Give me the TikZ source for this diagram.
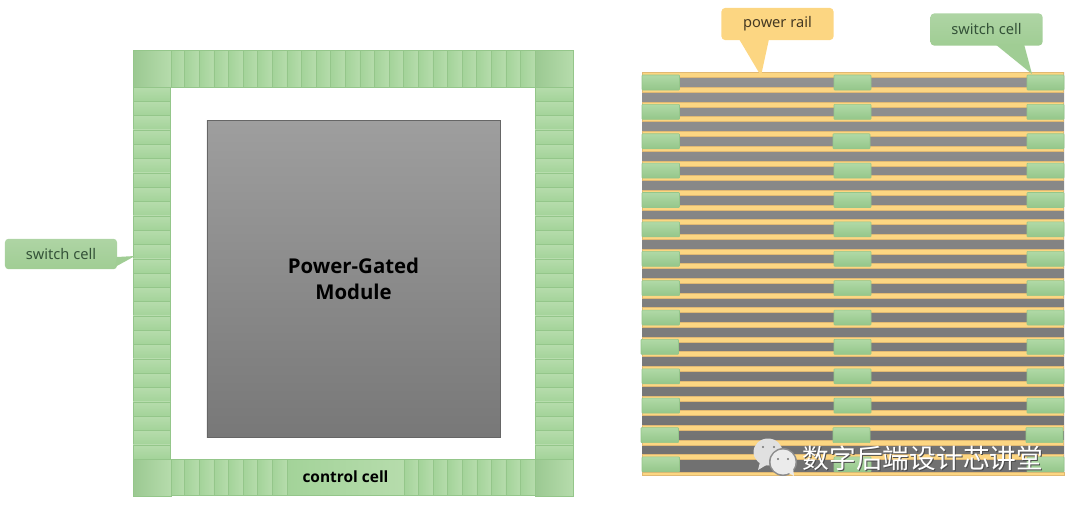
\documentclass[tikz,border=0pt]{standalone}
\usepackage{fontspec}
\usepackage{tikz}
\usetikzlibrary{positioning}
\setmainfont{Noto Sans}
\newfontfamily\boldlabel{Open Sans}
\newfontfamily\cjkfont{Noto Sans CJK SC}
\definecolor{mgreen}{RGB}{163, 211, 153}
\definecolor{mgreenl}{RGB}{182, 220, 172}
\definecolor{mgreend}{RGB}{148, 198, 138}
\definecolor{mtail}{RGB}{160, 205, 148}
\definecolor{myellow}{RGB}{252, 214, 130}
\definecolor{myellowd}{RGB}{225, 185, 115}
\definecolor{mtext}{RGB}{52, 82, 56}
\tikzset{
  cellh/.style = {left color=mgreen, right color=mgreenl, draw=mgreend, line width=0.3pt},
  cellv/.style = {top color=mgreenl, bottom color=mgreen, draw=mgreend, line width=0.3pt},
  swcell/.style = {top color=mgreenl!70!mgreen, bottom color=mgreend, draw=mgreend, line width=0.4pt, rounded corners=0.5pt},
  rail/.style = {fill=myellow, draw=myellowd, line width=0.2pt},
  greenlabel/.style = {top color=mtail!85!white, bottom color=mtail, rounded corners=2.5pt, minimum width=2.8cm, minimum height=0.76cm,
                       inner sep=0pt, text=mtext, font=\fontsize{10.4}{12}\selectfont},
  yellowlabel/.style = {fill=myellow, rounded corners=2.5pt, minimum width=2.8cm, minimum height=0.8cm,
                        inner sep=0pt, text=black!70!myellowd, font=\fontsize{10.4}{12}\selectfont},
}
\begin{document}
\begin{tikzpicture}[x=0.025cm, y=-0.025cm]
      \useasboundingbox (0, 0) rectangle (1080, 507);

      % ring of cells
      \foreach \i in {0, ..., 24}
        \draw [cellh] (170 + 14.6*\i, 50) rectangle (170 + 14.6*\i + 14.6, 87);
      \foreach \i in {0, ..., 7}
        \draw [cellh] (170 + 14.6*\i, 459) rectangle (170 + 14.6*\i + 14.6, 495);
      \foreach \i in {0, ..., 8}
        \draw [cellh] (404 + 14.55*\i, 459) rectangle (404 + 14.55*\i + 14.55, 495);
      \foreach \i in {0, ..., 25} {
        \draw [cellv] (133, 87 + 14.31*\i) rectangle (170, 87 + 14.31*\i + 14.31);
        \draw [cellv] (535, 87 + 14.31*\i) rectangle (573, 87 + 14.31*\i + 14.31);
      }
      \foreach \x/\y in {133/50, 535/50, 133/459, 535/459}
        \draw [left color=mgreen!95!black, right color=mgreenl, draw=mgreend, line width=0.3pt]
          (\x, \y) rectangle +(38, 37.5);
      \node [cellh, minimum width=2.92cm, minimum height=0.9cm, inner sep=0pt, font=\boldlabel\bfseries\fontsize{11}{13}\selectfont]
        (control) at (345.5, 477) {control cell};

      % gated block
      \node [top color=black!38, bottom color=black!53, draw=black!60, line width=0.3pt,
             minimum width=7.325cm, minimum height=7.925cm, inner sep=0pt, align=center,
             font=\boldlabel\bfseries\fontsize{14.5}{18.6}\selectfont]
        (module) at (353.5, 279) {Power-Gated\\Module};

      % rails
      \fill [top color=black!43, bottom color=black!56] (642, 72) rectangle (1064, 475);
      \foreach \k in {0, ..., 26}
        \draw [rail] (642, 72.5 + 14.69*\k) rectangle (1063, 77.5 + 14.69*\k);
      \draw [rail] (642, 472) rectangle (1064, 475);

      % switch cells
      \foreach \row/\dl/\dm/\dr in {0/0/0/0, 1/0/0/0, 2/0/-1/0, 3/0/0/0, 4/0/0/0, 5/0/0/0, 6/0/0/0,
                                    7/0/0/0, 8/0/0/0, 9/-1/0/0, 10/0/0/0, 11/0/0/0, 12/-1/-1/-1, 13/0/0/0} {
        \draw [swcell] (642 + \dl, 75 + 29.38*\row) rectangle +(37.5, 15);
        \draw [swcell] (834 + \dm, 75 + 29.38*\row) rectangle +(37, 15);
        \draw [swcell] (1027 + \dr, 75 + 29.38*\row) rectangle +(37, 15);
      }

      % call-outs
      \node [greenlabel] (swleft) at (61, 254) {switch cell};
      \coordinate (swlefttip) at (135, 256);
      \fill [mtail] (117, 257) -- (swlefttip) -- (115, 267) -- cycle;

      \node [yellowlabel] (rail) at (777.5, 24) {power rail};
      \coordinate (railtip) at (761, 76);
      \fill [myellow] (739, 39) -- (railtip) -- (769, 39) -- cycle;

      \node [greenlabel, minimum height=0.8cm] (swright) at (986.5, 29.5) {switch cell};
      \coordinate (swrighttip) at (1032, 74);
      \fill [mtail] (995, 44) -- (swrighttip) -- (1024, 44) -- cycle;

      % mark
      \fill [black!12] (768, 452) ellipse (14.5 and 13.5);
      \fill [black!12] (760, 462) -- (758, 470) -- (768, 464) -- cycle;
      \fill [black!45] (783, 462) circle (14);
      \fill [white!92!black] (783, 462) circle (12.5);
      \fill [white!92!black] (787, 472) -- (794, 476) -- (793, 468) -- cycle;
      \fill [black!55] (763, 447) circle (1.2) (774, 447) circle (1.2) (778, 459) circle (1.2) (788, 459) circle (1.2);
      \node [text=black!70, inner sep=0pt, font=\cjkfont\fontsize{19}{22}\selectfont] (markshadow) at (924, 459.5) {数字后端设计芯讲堂};
      \node [text=white, inner sep=0pt, font=\cjkfont\fontsize{19}{22}\selectfont] (marktext) at (923, 458.5) {数字后端设计芯讲堂};
    \end{tikzpicture}
\end{document}
